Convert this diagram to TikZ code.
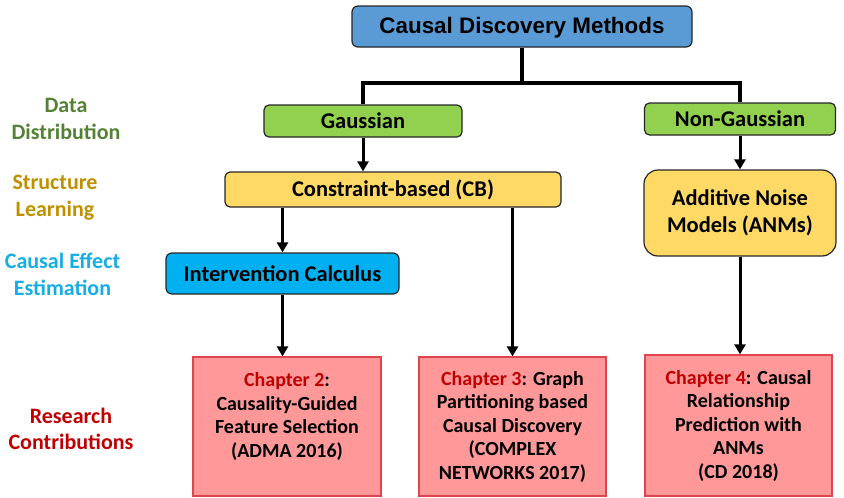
\documentclass[tikz,border=0pt]{standalone}
\usepackage{fontspec}
\setmainfont{Carlito}
\newfontfamily\arialfont{Liberation Sans}
\usetikzlibrary{arrows.meta,calc}
\definecolor{topblue}{HTML}{5B9BD5}
\definecolor{gaussgreen}{HTML}{92D050}
\definecolor{cbyellow}{HTML}{FFD966}
\definecolor{icblue}{HTML}{00B0F0}
\definecolor{chfill}{HTML}{FF9999}
\definecolor{chborder}{HTML}{E0454F}
\definecolor{chred}{HTML}{C00000}
\definecolor{lblgreen}{HTML}{548235}
\definecolor{lblgold}{HTML}{BF9000}
\definecolor{lblblue}{HTML}{15ADE6}
\definecolor{edge}{HTML}{262626}
\tikzset{
  box/.style={draw=edge, line width=1.2pt, inner sep=0pt, align=center,
    font=\fontsize{22.5}{27}\selectfont\bfseries},
  chbox/.style={draw=chborder, fill=chfill, line width=1.3pt, inner sep=0pt,
    align=center, minimum width=188pt, minimum height=139pt,
    font=\fontsize{20}{23.5}\selectfont\bfseries},
  lbl/.style={align=center, inner sep=0pt, font=\fontsize{22}{26.5}\selectfont\bfseries},
  arr/.style={line width=3pt, -{Triangle[width=11pt,length=10pt]}},
  brk/.style={line width=4pt}
}
\begin{document}
\begin{tikzpicture}[x=1pt,y=-1pt]
\useasboundingbox (0,0) rectangle (844,498);
% boxes
\node[box, fill=topblue, rounded corners=6pt, minimum width=340pt, minimum height=41pt,
  text height=16pt, text depth=2pt,
  font=\fontsize{22.4}{26}\selectfont\arialfont\bfseries] (top) at (522,26.5) {Causal Discovery Methods};
\node[box, fill=gaussgreen, rounded corners=5pt, minimum width=198pt, minimum height=32pt] (gauss) at (363,121) {Gaussian};
\node[box, fill=gaussgreen, rounded corners=5pt, minimum width=191pt, minimum height=32pt] (ngauss) at (740,119) {Non-Gaussian};
\node[box, fill=cbyellow, rounded corners=5pt, minimum width=336pt, minimum height=35pt] (cb) at (393,189.5) {Constraint-based (CB)};
\node[box, fill=cbyellow, rounded corners=14pt, minimum width=192pt, minimum height=86pt] (anm) at (740,213) {Additive Noise\\Models (ANMs)};
\node[box, fill=icblue, rounded corners=6pt, minimum width=233pt, minimum height=41pt] (ic) at (282.5,273.5) {Intervention Calculus};
\node[chbox] (ch2) at (287,426.5) {\textcolor{chred}{Chapter 2}:\\Causality-Guided\\Feature Selection\\(ADMA 2016)\\\mbox{}};
\node[chbox, minimum width=187pt] (ch3) at (512.5,426.5) {\textcolor{chred}{Chapter 3}: Graph\\Partitioning based\\Causal Discovery\\(COMPLEX\\NETWORKS 2017)};
\node[chbox, minimum width=187pt, minimum height=141pt] (ch4) at (738.5,425.5) {\textcolor{chred}{Chapter 4}: Causal\\Relationship\\Prediction with\\ANMs\\(CD 2018)};
% side labels
\node[lbl, text=lblgreen] (ldata) at (66,119) {Data\\Distribution};
\node[lbl, text=lblgold] (lstruct) at (55,197.5) {Structure\\Learning};
\node[lbl, text=lblblue] (leff) at (62.5,274.5) {Causal Effect\\Estimation};
\node[lbl, text=chred] (lres) at (71,429) {Research\\Contributions};
% bracket
\coordinate (j) at ($(top.south)+(0,35)$);
\draw[brk] (top.south) -- (j);
\draw[brk] (gauss.north) -- (gauss.north |- j) -- (ngauss.north |- j) -- (ngauss.north);
% arrows
\draw[arr] (gauss.south) -- (gauss.south |- cb.north);
\draw[arr] (ngauss.south) -- (ngauss.south |- anm.north);
\draw[arr] (cb.south -| ic.north) -- (ic.north);
\draw[arr] (ic.south) -- (ic.south |- ch2.north);
\draw[arr] (cb.south -| ch3.north) -- (ch3.north);
\draw[arr] (anm.south) -- (anm.south |- ch4.north);
\end{tikzpicture}
\end{document}
